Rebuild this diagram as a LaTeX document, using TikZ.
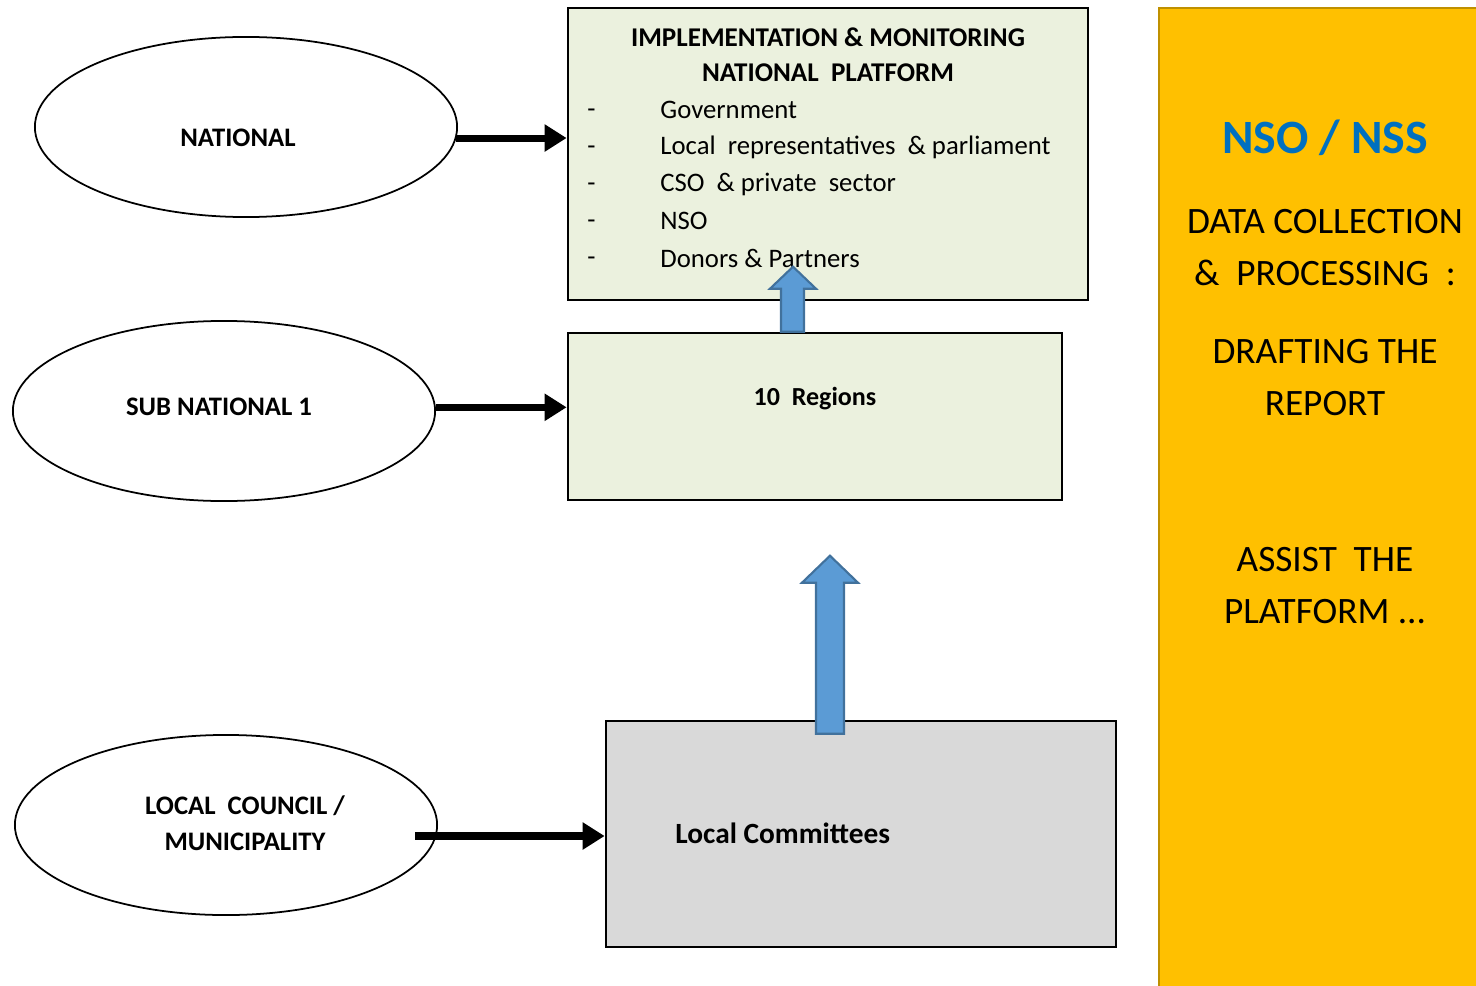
\documentclass[tikz,border=0pt]{standalone}
\usepackage{fontspec}
\setmainfont{Carlito}
\usepackage{tikz}
\usetikzlibrary{shapes.geometric}
\usetikzlibrary{arrows.meta}
\usetikzlibrary{positioning}

\definecolor{boxgreen}{HTML}{EBF1DE}
\definecolor{boxgray}{HTML}{D9D9D9}
\definecolor{panelgold}{HTML}{FFC000}
\definecolor{panelline}{HTML}{BF9000}
\definecolor{arrowblue}{HTML}{5B9BD5}
\definecolor{arrowline}{HTML}{41719C}
\definecolor{nsoblue}{HTML}{0070C0}

\begin{document}
\begin{tikzpicture}[x=0.01cm,y=-0.01cm,
    level/.style={ellipse,draw,line width=0.5pt,minimum width=4.22cm,minimum height=1.8cm,inner sep=0pt},
    tag/.style={font=\fontsize{7.6}{10.2}\selectfont\bfseries,align=center},
    tier/.style={rectangle,draw,line width=0.7pt,inner sep=0pt},
    feed/.style={line width=2pt,-{Triangle[length=0.22cm,width=0.26cm]}},
    lift/.style={fill=arrowblue,draw=arrowline,line width=0.6pt},
    item/.style={anchor=west,font=\fontsize{7.6}{9}\selectfont},
    panel/.style={font=\fontsize{10.6}{14.8}\selectfont,align=center}]
    \useasboundingbox (0,0) rectangle (1476,985);
    \clip (0,0) rectangle (1476,985);

    % 右侧面板
    \node[draw=panelline,fill=panelgold,line width=0.7pt,minimum width=3.4cm,minimum height=9.9cm,anchor=north west] (nso) at (1158,7) {};
    \node[font=\fontsize{13.6}{16}\selectfont\bfseries,text=nsoblue] (nsotitle) at (1325,138) {NSO / NSS};
    \node[panel] (collect) at (1325,248) {DATA COLLECTION\\\&\ \ PROCESSING\ \ :};
    \node[panel] (draft) at (1325,378) {DRAFTING THE\\REPORT};
    \node[panel] (assist) at (1325,586) {ASSIST\ \ THE\\PLATFORM ...};

    % 三个层级
    \node[level] (national) at (246,127) {};
    \node[level] (sub) at (224,411) {};
    \node[level] (local) at (226,825) {};
    \node[tag] (nationaltxt) at (238,138) {NATIONAL};
    \node[tag] (subtxt) at (219,407) {SUB NATIONAL 1};
    \node[tag] (localtxt) at (245,823) {LOCAL\ \ COUNCIL /\\MUNICIPALITY};

    % 方框
    \node[tier,fill=boxgreen,minimum width=5.2cm,minimum height=2.92cm] (platform) at (828,154) {};
    \node[tier,fill=boxgreen,minimum width=4.94cm,minimum height=1.67cm] (regions) at (815,416.5) {};
    \node[tier,fill=boxgray,minimum width=5.1cm,minimum height=2.26cm] (committees) at (861,834) {};

    \node[font=\fontsize{7.7}{9}\selectfont\bfseries] (ptitle) at (828,37) {IMPLEMENTATION \& MONITORING};
    \node[font=\fontsize{7.7}{9}\selectfont\bfseries] (psub) at (828,73) {NATIONAL\ \ PLATFORM};
    \foreach \y/\txt in {110/Government, 147/{Local\ \ representatives\ \ \& parliament},
        184/{CSO\ \ \& private\ \ sector}, 221/NSO, 258/{Donors \& Partners}} {
        \node[item] at (575,\y+3) {-};
        \node[item] at (648,\y) {\txt};
    }
    \node[font=\fontsize{7.4}{9}\selectfont\bfseries] (rlabel) at (815,399) {10\ \ Regions};
    \node[anchor=west,font=\fontsize{8.35}{10}\selectfont\bfseries] (clabel) at (663,833) {Local Committees};

    % 黑色箭头
    \draw[feed] (national.-3) -- (platform.west |- national.-3);
    \draw[feed] (sub.1) -- (regions.west |- sub.1);
    \coordinate (localtail) at (415,836);
    \draw[feed] (localtail) -- (committees.west |- localtail);

    % 蓝色箭头
    \filldraw[lift] ([xshift=-0.34cm]regions.north) -- ++(0,-43) -- ++(-11,0) -- ++(23,-22) -- ++(23,22) -- ++(-12,0) -- ++(0,43) -- cycle;
    \filldraw[lift] ([xshift=-0.45cm,yshift=-0.14cm]committees.north) -- ++(0,-151) -- ++(-14,0) -- ++(28,-27) -- ++(28,27) -- ++(-14,0) -- ++(0,151) -- cycle;

\end{tikzpicture}
\end{document}
